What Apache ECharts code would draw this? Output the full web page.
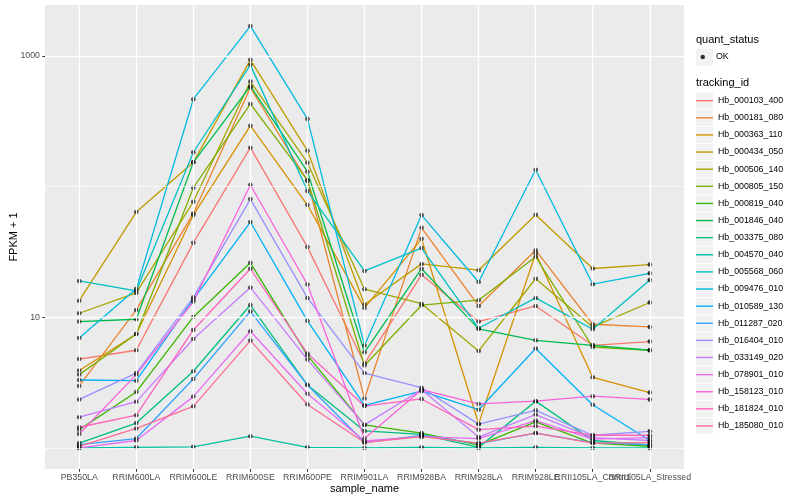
<!DOCTYPE html>
<html><head><meta charset="utf-8">
<script src="https://cdn.jsdelivr.net/npm/echarts@6/dist/echarts.min.js"></script>
<style>html,body{margin:0;padding:0;background:#fff}#c{width:800px;height:500px}</style>
</head><body><div id="c"></div>
<script>
const categories = ['PB350LA','RRIM600LA','RRIM600LE','RRIM600SE','RRIM600PE','RRIM901LA','RRIM928BA','RRIM928LA','RRIM928LE','RRII105LA_Control','RRII105LA_Stressed'];
const trackingIds = ['Hb_000103_400','Hb_000181_080','Hb_000363_110','Hb_000434_050','Hb_000506_140','Hb_000805_150','Hb_000819_040','Hb_001846_040','Hb_003375_080','Hb_004570_040','Hb_005568_060','Hb_009476_010','Hb_010589_130','Hb_011287_020','Hb_016404_010','Hb_033149_020','Hb_078901_010','Hb_158123_010','Hb_181824_010','Hb_185080_010'];
const colors = ['#F8766D','#EA8331','#D89000','#C09B00','#A3A500','#7CAE00','#39B600','#00BB4E','#00BF7D','#00C1A3','#00BFC4','#00BAE0','#00B0F6','#35A2FF','#9590FF','#C77CFF','#E76BF3','#FA62DB','#FF62BC','#FF6C91'];

// FPKM + 1 values, one array per tracking_id, in category order
const hb_000103_400 = [4.79, 5.59, 37.1, 198.3, 34.4, 4.42, 21.1, 9.27, 12.2, 6.10, 6.51];
const hb_000181_080 = [2.98, 11.37, 62.3, 571.6, 110.2, 2.39, 48.3, 12.2, 32.6, 8.84, 8.43];
const hb_000363_110 = [3.91, 7.45, 60.5, 292.4, 72.2, 11.78, 39.8, 1.53, 30.9, 3.47, 2.65];
const hb_000434_050 = [13.4, 63.8, 153.2, 931.7, 188.1, 12.5, 25.6, 22.9, 60.8, 23.6, 25.3];
const hb_000506_140 = [10.73, 15.36, 76.5, 635.6, 152.2, 16.4, 12.7, 5.52, 19.7, 8.43, 12.96];
const hb_000805_150 = [3.64, 7.45, 97.9, 428.7, 112.1, 4.27, 12.36, 13.5, 29.0, 5.92, 5.59];
const hb_000819_040 = [1.38, 2.68, 10.05, 26.1, 5.11, 1.50, 1.30, 1.05, 1.58, 1.09, 1.03];
const hb_001846_040 = [9.27, 9.65, 153.2, 585.9, 129.8, 5.39, 23.5, 8.14, 6.66, 6.10, 5.59];
const hb_003375_080 = [1.09, 1.55, 3.86, 12.4, 3.03, 1.35, 1.27, 1.01, 2.28, 1.14, 1.05];
const hb_004570_040 = [1.0, 1.01, 1.02, 1.23, 1.01, 1.0, 1.01, 1.0, 1.01, 1.0, 1.0];
const hb_005568_060 = [18.97, 15.9, 182.9, 853.1, 92.4, 22.6, 33.8, 8.23, 14.05, 8.09, 19.3];
const hb_009476_010 = [6.94, 16.5, 465.9, 1689, 329.0, 6.07, 60.5, 18.6, 134.5, 17.9, 21.7];
const hb_010589_130 = [3.31, 3.27, 13.7, 53.5, 9.37, 2.12, 2.72, 1.96, 5.76, 2.14, 1.14];
const hb_011287_020 = [1.06, 1.18, 3.37, 11.1, 3.03, 1.10, 1.25, 1.08, 1.30, 1.10, 1.06];
const hb_016404_010 = [2.35, 3.74, 14.2, 80.2, 14.05, 3.74, 2.89, 1.52, 1.94, 1.25, 1.34];
const hb_033149_020 = [1.72, 2.26, 6.82, 16.9, 4.74, 1.50, 2.79, 1.21, 1.80, 1.20, 1.14];
const hb_078901_010 = [1.0, 1.14, 2.47, 7.81, 2.60, 1.13, 1.22, 1.18, 1.62, 1.17, 1.20];
const hb_158123_010 = [1.28, 3.64, 13.2, 102.7, 17.8, 1.18, 2.79, 2.17, 2.28, 2.49, 2.35];
const hb_181824_010 = [1.44, 1.78, 7.99, 23.5, 5.27, 2.09, 2.37, 1.38, 1.47, 1.25, 1.25];
const hb_185080_010 = [1.03, 1.41, 2.08, 6.63, 2.15, 1.10, 1.22, 1.09, 1.30, 1.09, 1.10];

const yTickLabels = [10, 1000];
const yMinorBreaks = [1, 100];

const seriesValues = [hb_000103_400, hb_000181_080, hb_000363_110, hb_000434_050, hb_000506_140, hb_000805_150, hb_000819_040, hb_001846_040, hb_003375_080, hb_004570_040, hb_005568_060, hb_009476_010, hb_010589_130, hb_011287_020, hb_016404_010, hb_033149_020, hb_078901_010, hb_158123_010, hb_181824_010, hb_185080_010];

const FONT = 'Liberation Sans, Arial, Helvetica, sans-serif';
const catPos = categories.map((c, i) => i + 1);
// labels split across two axes so that the overlapping neighbours both stay visible
const labelPosA = catPos.filter(p => p % 2 === 1);
const labelPosB = catPos.filter(p => p % 2 === 0);

const lineSeries = trackingIds.map((id, i) => ({
  type: 'line', name: id,
  data: seriesValues[i].map((v, j) => [j + 1, v]),
  symbol: 'none', z: 3, silent: true,
  lineStyle: { width: 1.3, color: colors[i] },
  itemStyle: { color: colors[i] },
  emphasis: { disabled: true }
}));

const pointData = [];
seriesValues.forEach(arr => arr.forEach((v, j) => pointData.push([j + 1, v])));

const gridLines = [];
catPos.forEach(p => gridLines.push({ xAxis: p, lineStyle: { width: 1.42 } }));
yTickLabels.forEach(v => gridLines.push({ yAxis: v, lineStyle: { width: 1.42 } }));
yMinorBreaks.forEach(v => gridLines.push({ yAxis: v, lineStyle: { width: 0.71 } }));

// legend key backgrounds
const keyRects = [];
keyRects.push({ type: 'rect', left: 696, top: 48.5, shape: { width: 17, height: 17 }, style: { fill: '#F2F2F2' }, z: 0 });
trackingIds.forEach((id, i) => {
  keyRects.push({ type: 'rect', left: 696, top: 92.6 + 17.12 * i, shape: { width: 17, height: 16.2 }, style: { fill: '#F2F2F2' }, z: 0 });
});

function xAxisDef(labelPos, withName) {
  return {
    type: 'value', min: 0.4, max: 11.6, position: 'bottom', offset: 0,
    name: withName ? 'sample_name' : '', nameLocation: 'middle', nameGap: 14.5, nameMoveOverlap: false,
    nameTextStyle: { fontFamily: FONT, fontSize: 11, color: '#000' },
    axisLine: { show: false },
    axisTick: { show: true, length: 2.75, lineStyle: { color: '#333', width: 1 }, customValues: labelPos },
    axisLabel: { customValues: labelPos, margin: 4.5, fontFamily: FONT, fontSize: 8.8, color: '#4D4D4D',
      hideOverlap: false, showMinLabel: true, showMaxLabel: true,
      formatter: v => categories[Math.round(v) - 1] || '' },
    splitLine: { show: false }
  };
}

const option = {
  animation: false,
  backgroundColor: '#fff',
  color: colors,
  grid: { left: 45, right: 116, top: 5, bottom: 31, show: true, backgroundColor: '#EBEBEB', borderWidth: 0, containLabel: false, outerBoundsMode: 'none' },
  xAxis: [xAxisDef(labelPosA, true), xAxisDef(labelPosB, false)],
  yAxis: {
    type: 'log', logBase: 10, min: 0.69, max: 2449,
    name: 'FPKM + 1', nameLocation: 'middle', nameGap: 25.5, nameRotate: 90, nameMoveOverlap: false,
    nameTextStyle: { fontFamily: FONT, fontSize: 11, color: '#000' },
    axisLine: { show: false },
    axisTick: { show: true, length: 2.75, lineStyle: { color: '#333', width: 1 }, customValues: yTickLabels },
    axisLabel: { customValues: yTickLabels, margin: 5, fontFamily: FONT, fontSize: 8.8, color: '#4D4D4D',
      formatter: v => String(Math.round(v)) },
    splitLine: { show: false },
    minorSplitLine: { show: false }
  },
  legend: [
    {
      orient: 'vertical', left: 700.5, top: 51, padding: 0, itemGap: 0,
      itemWidth: 4.5, itemHeight: 4.5, selectedMode: false,
      data: [{ name: 'OK', icon: 'circle', itemStyle: { color: '#000', borderWidth: 0 } }],
      textStyle: { fontFamily: FONT, fontSize: 8.8, color: '#000', lineHeight: 12, padding: [0, 0, 0, 6] }
    },
    {
      orient: 'vertical', left: 696, top: 94.7, padding: 0, itemGap: 5.12,
      itemWidth: 17, itemHeight: 17.12, selectedMode: false,
      data: trackingIds.map((id, i) => ({ name: id, icon: 'path://M0,0L17,0L17,1.4L0,1.4Z', itemStyle: { color: colors[i], borderWidth: 0 } })),
      textStyle: { fontFamily: FONT, fontSize: 8.8, color: '#000', lineHeight: 12 }
    }
  ],
  graphic: keyRects.concat([
    { type: 'text', left: 696, top: 34, style: { text: 'quant_status', font: '11px ' + FONT, fill: '#000' }, z: 5 },
    { type: 'text', left: 696, top: 77.5, style: { text: 'tracking_id', font: '11px ' + FONT, fill: '#000' }, z: 5 }
  ]),
  series: [
    {
      type: 'line', name: '_grid', data: [], z: 1, silent: true, symbol: 'none',
      markLine: { silent: true, symbol: ['none', 'none'], label: { show: false }, animation: false,
        lineStyle: { color: '#FFFFFF', type: 'solid' }, emphasis: { disabled: true }, data: gridLines }
    }
  ].concat(lineSeries).concat([
    {
      type: 'scatter', name: 'OK', data: pointData, symbol: 'circle', symbolSize: 4.5, z: 4, silent: true,
      itemStyle: { color: '#000' }, emphasis: { disabled: true }
    }
  ])
};

const chart = echarts.init(document.getElementById('c'), null, { renderer: 'canvas' });
chart.setOption(option);
</script></body></html>
